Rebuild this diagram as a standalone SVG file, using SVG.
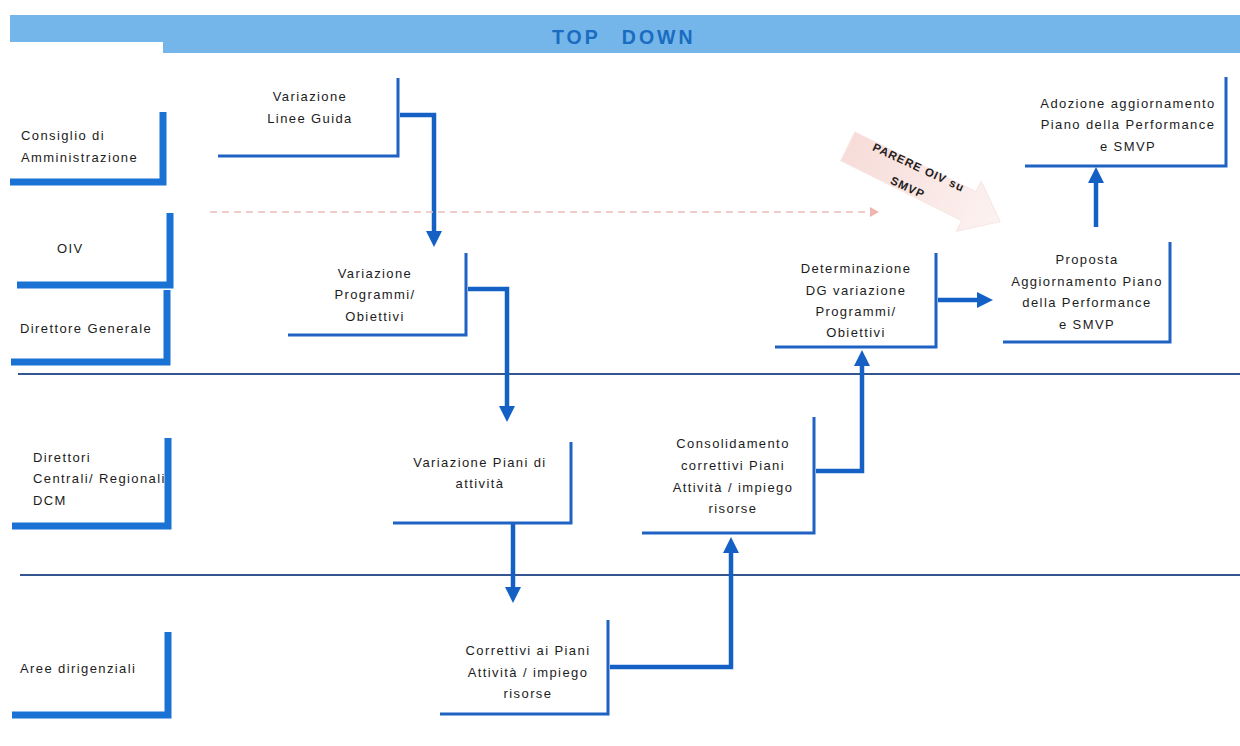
<svg xmlns="http://www.w3.org/2000/svg" width="1240" height="746" viewBox="0 0 1240 746">
<defs>
<style>
.t{font-family:"Liberation Sans",Arial,sans-serif;font-size:13px;letter-spacing:1.4px;fill:#1c1c1c}
.c{text-anchor:middle}
.lane{fill:none;stroke:#1a72d4;stroke-width:7;stroke-linejoin:miter}
.box{fill:none;stroke:#1f62c4;stroke-width:3;stroke-linejoin:miter}
.arr{fill:none;stroke:#1560c4;stroke-width:4.5;stroke-linejoin:miter}
.div{fill:none;stroke:#34558f;stroke-width:2}
.hdr{fill:#74b5ea}
.pt{font-family:"Liberation Sans",Arial,sans-serif;font-weight:bold;font-size:11.5px;letter-spacing:1px;fill:#222;text-anchor:middle}
</style>
<marker id="ah" markerUnits="userSpaceOnUse" markerWidth="20" markerHeight="20" refX="6" refY="9" orient="auto">
<path d="M0,1 L16,9 L0,17 z" fill="#1560c4"/>
</marker>
<marker id="ahp" markerUnits="userSpaceOnUse" markerWidth="12" markerHeight="12" refX="2" refY="5" orient="auto">
<path d="M0,0 L9,5 L0,10 z" fill="#f0b4ae"/>
</marker>
<linearGradient id="pg" x1="0" y1="0" x2="1" y2="0">
<stop offset="0" stop-color="#f7dcd8"/>
<stop offset="1" stop-color="#fcf2f1"/>
</linearGradient>
</defs>
<rect width="1240" height="746" fill="#ffffff"/>

<g id="header">
<rect class="hdr" x="10" y="15" width="154" height="27"/>
<rect class="hdr" x="163" y="15" width="1077" height="38"/>
<text x="552" y="44" style="font-family:'Liberation Sans',Arial,sans-serif;font-weight:bold;font-size:19.5px;letter-spacing:3px;word-spacing:13px;fill:#1a6cc0">TOP DOWN</text>
</g>

<g id="dividers">
<path class="div" d="M18,374 H1240"/>
<path class="div" d="M20,575 H1240" stroke="#4a6aaa"/>
</g>

<g id="lane-cda">
<path class="lane" d="M10,182 H163 V112"/>
<text class="t" x="21" y="140">Consiglio di</text>
<text class="t" x="21" y="162">Amministrazione</text>
</g>
<g id="lane-oiv">
<path class="lane" d="M17,285 H170 V213"/>
<text class="t" x="57" y="253">OIV</text>
</g>
<g id="lane-dg">
<path class="lane" d="M11,362 H167 V290"/>
<text class="t" x="20" y="333">Direttore Generale</text>
</g>
<g id="lane-dcm">
<path class="lane" d="M12,526 H168 V438"/>
<text class="t" x="33" y="462">Direttori</text>
<text class="t" x="33" y="483">Centrali/ Regionali</text>
<text class="t" x="33" y="505">DCM</text>
</g>
<g id="lane-aree">
<path class="lane" d="M12,715 H168 V632"/>
<text class="t" x="20" y="673">Aree dirigenziali</text>
</g>

<g id="connectors">
<path class="arr" d="M400,115 H434 V237" marker-end="url(#ah)"/>
<path class="arr" d="M468,289 H507 V412" marker-end="url(#ah)"/>
<path class="arr" d="M513,524 V593" marker-end="url(#ah)"/>
<path class="arr" d="M610,667 H731 V547" marker-end="url(#ah)"/>
<path class="arr" d="M816,471 H862 V360" marker-end="url(#ah)"/>
<path class="arr" d="M938,300 H983" marker-end="url(#ah)"/>
<path class="arr" d="M1096,227 V177" marker-end="url(#ah)"/>
<path d="M210,212 H872" fill="none" stroke="#eebcb8" stroke-width="1.6" stroke-dasharray="7 5" marker-end="url(#ahp)"/>
</g>

<g id="parere">
<path transform="translate(924,184) rotate(26.3)" d="M-85,-16 H50 V-28 L85,0 L50,28 V16 H-85 Z" fill="url(#pg)" stroke="#f7e6e3" stroke-width="1"/>
<text class="pt" transform="translate(917,171) rotate(25)">PARERE OIV su</text>
<text class="pt" transform="translate(906,191) rotate(25)">SMVP</text>
</g>

<g id="n-linee-guida">
<path class="box" d="M218,156 H398 V78"/>
<text class="t c" x="310" y="101">Variazione</text>
<text class="t c" x="310" y="123">Linee Guida</text>
</g>
<g id="n-programmi">
<path class="box" d="M288,335 H466 V253"/>
<text class="t c" x="375" y="278">Variazione</text>
<text class="t c" x="375" y="299">Programmi/</text>
<text class="t c" x="375" y="321">Obiettivi</text>
</g>
<g id="n-piani">
<path class="box" d="M393,523 H571 V442"/>
<text class="t c" x="480" y="467">Variazione Piani di</text>
<text class="t c" x="480" y="488">attività</text>
</g>
<g id="n-correttivi">
<path class="box" d="M440,714 H608 V620"/>
<text class="t c" x="528" y="655">Correttivi ai Piani</text>
<text class="t c" x="528" y="677">Attività / impiego</text>
<text class="t c" x="528" y="698">risorse</text>
</g>
<g id="n-consolidamento">
<path class="box" d="M642,533 H814 V417"/>
<text class="t c" x="733" y="448">Consolidamento</text>
<text class="t c" x="733" y="470">correttivi Piani</text>
<text class="t c" x="733" y="492">Attività / impiego</text>
<text class="t c" x="733" y="513">risorse</text>
</g>
<g id="n-determinazione">
<path class="box" d="M775,347 H936 V253"/>
<text class="t c" x="856" y="273">Determinazione</text>
<text class="t c" x="856" y="295">DG variazione</text>
<text class="t c" x="856" y="316">Programmi/</text>
<text class="t c" x="856" y="337">Obiettivi</text>
</g>
<g id="n-proposta">
<path class="box" d="M1003,342 H1170 V242"/>
<text class="t c" x="1087" y="264">Proposta</text>
<text class="t c" x="1087" y="286">Aggiornamento Piano</text>
<text class="t c" x="1087" y="307">della Performance</text>
<text class="t c" x="1087" y="329">e SMVP</text>
</g>
<g id="n-adozione">
<path class="box" d="M1025,166 H1226 V77"/>
<text class="t c" x="1128" y="108">Adozione aggiornamento</text>
<text class="t c" x="1128" y="129">Piano della Performance</text>
<text class="t c" x="1128" y="151">e SMVP</text>
</g>
</svg>
